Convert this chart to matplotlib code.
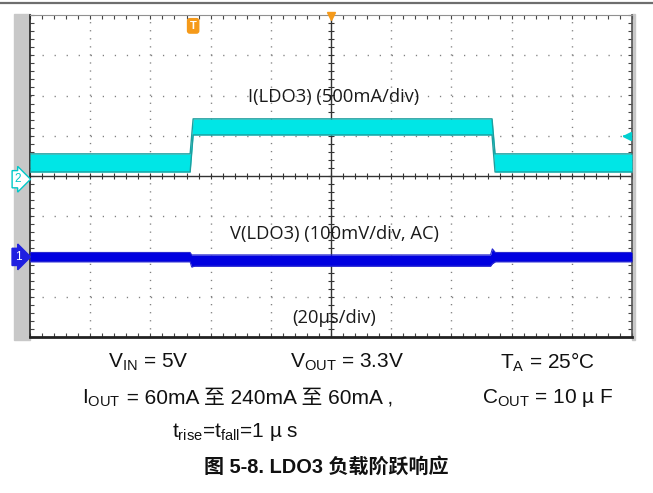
import matplotlib
matplotlib.use("Agg")
import matplotlib.pyplot as plt
from matplotlib.patches import Rectangle
import numpy as np

plt.rcParams['font.family'] = ['Liberation Sans', 'Noto Sans CJK SC', 'DejaVu Sans']
plt.rcParams['mathtext.fontset'] = 'custom'
plt.rcParams['mathtext.rm'] = 'Liberation Sans'
plt.rcParams['mathtext.it'] = 'Liberation Sans'

# %% data read off the scope shot (time in us, level in divisions)
t_cur = [-100, -46.8, -45.8, 53.5, 54.5, 100]
i_top = [0.55, 0.55, 1.42, 1.42, 0.55, 0.55]
i_bot = [0.10, 0.10, 1.02, 1.02, 0.10, 0.10]

t_volt = [-100, -46.8, -46.3, -45.3, 53.0, 53.6, 54.6, 100]
v_top = [-1.90, -1.90, -1.96, -1.96, -1.96, -1.81, -1.90, -1.90]
v_bot = [-2.13, -2.13, -2.26, -2.24, -2.24, -2.18, -2.13, -2.13]

trig_t = -45.8
trig_level = 1.0

W, H = 653, 493
fig = plt.figure(figsize=(W / 100, H / 100), dpi=100)

def fx(px):
    return px / W

def fy(py):
    return 1 - py / H

# axes box in pixels
L, R, T, B = 30, 632, 15, 337
ax = fig.add_axes([fx(L), fy(B), fx(R - L), (B - T) / H])
ax.set_xlim(-100, 100)
ax.set_ylim(-4, 4)

# grey side strips + top rule (behind the axes)
fig.patches.append(Rectangle((fx(14), fy(340)), fx(16), (340 - 14) / H,
                             transform=fig.transFigure, color='#c8c8c8', zorder=-1))
fig.patches.append(Rectangle((fx(632), fy(340)), fx(3), (340 - 14) / H,
                             transform=fig.transFigure, color='#c8c8c8', zorder=-1))
fig.add_artist(plt.Line2D([0, 1], [fy(3), fy(3)], color='#6e6e6e', lw=1.6))

# dotted grid, one dot per minor step
for xv in np.arange(-80, 100, 20):
    if xv == 0:
        continue
    ax.plot([xv, xv], [-4, 4], color='#808080', lw=1.0,
            linestyle=(0, (0.9, 4.9)), zorder=1)
for yv in np.arange(-3, 4, 1):
    if yv == 0:
        continue
    ax.plot([-100, 100], [yv, yv], color='#808080', lw=1.0,
            linestyle=(0, (0.9, 7.77)), zorder=1)

# centre axes with minor ticks
ax.axhline(0, color='#333333', lw=1.0, zorder=2)
ax.axvline(0, color='#333333', lw=1.0, zorder=2)
xm = np.arange(-100, 100.1, 4)
ym = np.arange(-4, 4.01, 0.2)
ax.plot(xm, np.zeros_like(xm), '|', color='#333333', ms=5, mew=0.8, zorder=2)
ax.plot(np.zeros_like(ym), ym, '_', color='#333333', ms=5, mew=0.8, zorder=2)

# edge ticks
ax.set_xticks(xm)
ax.set_yticks(ym)
ax.tick_params(which='both', direction='in', length=3, width=0.8, color='#444444',
               top=True, right=True, labelbottom=False, labelleft=False)
for s in ['left', 'bottom']:
    ax.spines[s].set_color('#222222')
ax.spines['bottom'].set_linewidth(2.0)
ax.spines['left'].set_linewidth(1.2)
ax.spines['top'].set_color('#909090')
ax.spines['right'].set_color('#555555')
ax.spines['right'].set_linewidth(1.2)

# current trace (ch2)
ax.fill_between(t_cur, i_bot, i_top, color='#00e6e6', lw=0, zorder=3)
ax.plot(t_cur, i_top, color='#1e9e9e', lw=1.0, zorder=3)
ax.plot(t_cur, i_bot, color='#1e9e9e', lw=1.0, zorder=3)

# voltage trace (ch1)
ax.fill_between(t_volt, v_bot, v_top, color='#0000e0', lw=0, zorder=3)
ax.plot(t_volt, v_top, color='#2a2ad0', lw=0.8, zorder=3)
ax.plot(t_volt, v_bot, color='#2a2ad0', lw=0.8, zorder=3)

# scope labels
sfont = dict(family=['Open Sans', 'DejaVu Sans'], fontsize=13.2, color='#1a1a1a',
             ha='center', va='center', zorder=5)
ax.text(1, 1.97, 'I(LDO3) (500mA/div)', **sfont)
ax.text(1, -1.45, 'V(LDO3) (100mV/div, AC)', **sfont)
ax.text(1, -3.53, '(20µs/div)', **sfont)

# markers: trigger, positions, channel refs
ax.text(trig_t, 3.73, 'T', color='white', fontsize=8, fontweight='bold',
        ha='center', va='center', zorder=6,
        bbox=dict(boxstyle='round,pad=0.2', fc='#f59a1a', ec='#f59a1a'))
ax.plot([0], [3.97], 'v', color='#f59a1a', ms=6, clip_on=False, zorder=6)
ax.plot([98.5], [trig_level], '<', color='#00d0d0', ms=6, clip_on=False, zorder=6)
ax.plot([97.2, 99.5], [trig_level, trig_level], color='#00d0d0', lw=1.2, zorder=6)
ax.text(-104.0, -0.08, '2', color='#00c8c8', fontsize=8.5, ha='center', va='center',
        clip_on=False, zorder=6,
        bbox=dict(boxstyle='rarrow,pad=0.22', fc='white', ec='#00c8c8', lw=1))
ax.text(-104.0, -2.01, '1', color='white', fontsize=8.5, ha='center', va='center',
        clip_on=False, zorder=6,
        bbox=dict(boxstyle='rarrow,pad=0.22', fc='#1f1fe0', ec='#1f1fe0', lw=1))

# conditions below the shot
cfont = dict(fontsize=15, color='#111111', va='center')
fig.text(fx(108), fy(362), r'V$_{\mathrm{IN}}$ = 5V', **cfont)
fig.text(fx(290), fy(362), r'V$_{\mathrm{OUT}}$ = 3.3V', **cfont)
fig.text(fx(500), fy(362), r'T$_{\mathrm{A}}$ = 25°C', **cfont)
# mathtext drops the CJK fallback, so the subscripted part goes on its own
t_iout = fig.text(fx(82), fy(398), r'I$_{\mathrm{OUT}}$', **cfont)
rend = fig.canvas.get_renderer()
x_after = t_iout.get_window_extent(rend).x1 / W
fig.text(x_after, fy(398), ' = 60mA 至 240mA 至 60mA ,', **cfont)
fig.text(fx(482), fy(398), r'C$_{\mathrm{OUT}}$ = 10 µ F', **cfont)
fig.text(fx(172), fy(432), r't$_{\mathrm{rise}}$=t$_{\mathrm{fall}}$=1 µ s', **cfont)
fig.text(fx(326), fy(467), '图 5-8. LDO3 负载阶跃响应', fontsize=14.4, fontweight='bold',
         color='#111111', ha='center', va='center')

fig.savefig('out.png', dpi=100)
